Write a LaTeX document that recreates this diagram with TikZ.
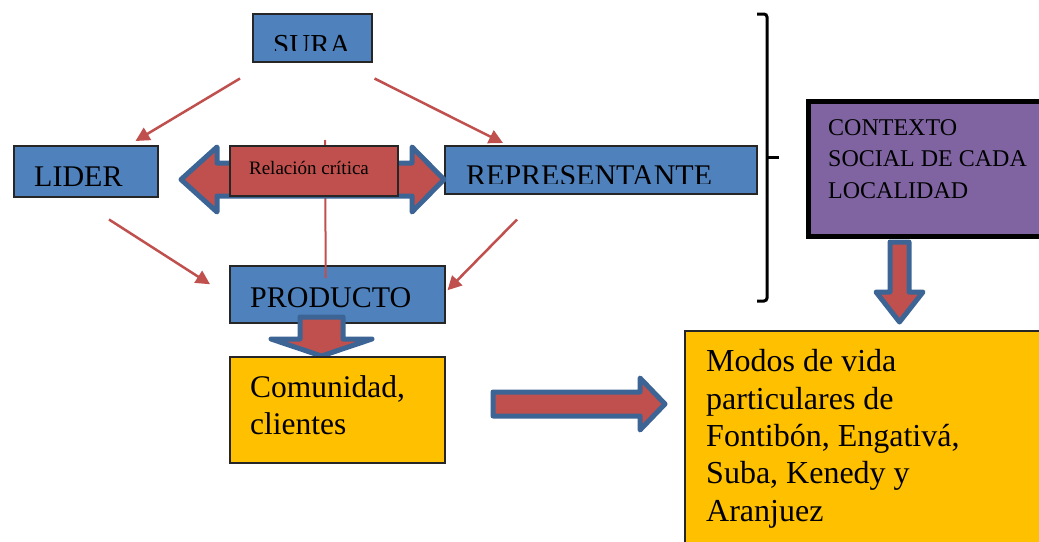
\documentclass[tikz,border=0pt]{standalone}
\usepackage{fontspec}
\setmainfont{Liberation Serif}
\usetikzlibrary{calc,positioning,arrows.meta}
\definecolor{boxblue}{HTML}{4F81BD}
\definecolor{boxred}{HTML}{C0504D}
\definecolor{edgeblue}{HTML}{3C6494}
\definecolor{boxgold}{HTML}{FFC000}
\definecolor{boxviolet}{HTML}{8064A2}
\tikzset{
  box/.style={draw=black!85,line width=1.5,inner sep=0,anchor=north west},
  bluebox/.style={box,fill=boxblue},
  goldbox/.style={box,fill=boxgold},
  txt/.style={inner sep=0,anchor=base west,align=left,font=\fontsize{30}{37.3}\selectfont},
  thin arrow/.style={draw=boxred,line width=2.5,-{Triangle[length=14,width=14]}},
  block arrow/.style={draw=edgeblue,fill=boxred,line width=5,line join=round}
}
\begin{document}
\begin{tikzpicture}[x=1pt,y=-1pt]
\useasboundingbox (0,0) rectangle (1039,541);

\node[bluebox,minimum width=119,minimum height=48] (sura) at (252,13) {};
\node[bluebox,minimum width=144,minimum height=51] (lider) at (13,145) {};
\node[bluebox,minimum width=312,minimum height=48] (rep) at (444,145) {};
\node[bluebox,minimum width=215,minimum height=57] (prod) at (229,265) {};

\begin{scope}
\clip (252,13) rectangle (371,50);
\node[txt,font=\fontsize{29}{29}\selectfont] (suraT) at (273,54) {SURA};
\end{scope}
\node[txt] (liderT) at (34,186) {LIDER};
\begin{scope}
\clip (444,145) rectangle (756,183);
\node[txt] (repT) at (466,185) {REPRESENTANTE};
\end{scope}
\node[txt] (prodT) at (250,307) {PRODUCTO};

\draw[thin arrow] ($(sura.south west)+(-12,16)$) -- ($(lider.north east)+(-23,-4)$);
\draw[thin arrow] ($(sura.south east)+(2,16)$) -- ($(rep.north west)+(59,-2)$);
\draw[thin arrow] ($(lider.south west)+(96,22)$) -- ($(prod.west)+(-19,-10)$);
\draw[thin arrow] ($(rep.south west)+(73,25)$) -- ($(prod.east)+(2,-4)$);

\coordinate (relTop) at (325,140);
\draw[boxred,line width=2] (relTop) -- ($(prod.north)+(-11.5,13)$);

\draw[block arrow] (181,179.5) -- (217,147) -- (217,163) -- (412,163) -- (412,147) -- (444,179.5)
  -- (412,212) -- (412,196) -- (217,196) -- (217,212) -- cycle;
\node[box,fill=boxred,minimum width=168,minimum height=50] (rel) at (229,145) {};
\node[inner sep=0,anchor=base,font=\fontsize{19}{19}\selectfont] (relT) at (309,174) {Relación crítica};

\draw[block arrow] (300,317) -- (343,317) -- (343,339) -- (372,339) -- (321.5,356) -- (271,339) -- (300,339) -- cycle;
\node[goldbox,minimum width=215,minimum height=106] (com) at (229,356) {};
\node[txt,font=\fontsize{31.5}{37}\selectfont] (comT) at (250,434) {Comunidad,\\clientes};

\draw[block arrow] (493,392) -- (640,392) -- (640,378) -- (665,404) -- (640,430) -- (640,416) -- (493,416) -- cycle;

\draw[line width=3,rounded corners=3] (757,14) -- (767,14) -- (767,301) -- (757,301);
\draw[line width=3] (767,157) -- (779,157);

\node[box,draw=black,line width=5,fill=boxviolet,minimum width=250,minimum height=135] (ctx) at (805.5,98.5) {};
\node[txt,font=\fontsize{24}{31.5}\selectfont] (ctxT) at (828,198) {CONTEXTO\\SOCIAL DE CADA\\LOCALIDAD};

\draw[block arrow] (890,242) -- (909,242) -- (909,292) -- (923,292) -- (899.5,322) -- (876,292) -- (890,292) -- cycle;
\node[goldbox,minimum width=370,minimum height=230] (modos) at (684,330) {};
\node[txt,font=\fontsize{32}{37.3}\selectfont] (modosT) at (706,521) {Modos de vida\\particulares de\\Fontibón, Engativá,\\Suba, Kenedy y\\Aranjuez};
\end{tikzpicture}
\end{document}
